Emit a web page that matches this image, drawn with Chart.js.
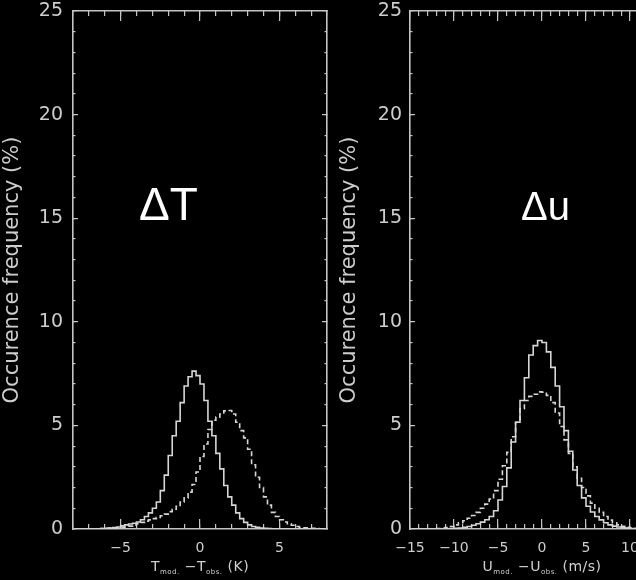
<!DOCTYPE html>
<html><head><meta charset="utf-8">
<script src="https://cdn.jsdelivr.net/npm/chart.js@4/dist/chart.umd.min.js"></script>
<style>
html,body{margin:0;padding:0;background:#000;width:636px;height:580px;overflow:hidden;}
#wrap{position:relative;width:636px;height:580px;overflow:hidden;background:#000;}
canvas{position:absolute;top:0;}
#c1{left:0;}
#c2{left:335px;}
.big{position:absolute;color:#fff;font-family:"Liberation Sans",Arial,sans-serif;line-height:1;white-space:nowrap;}
.xt{position:absolute;color:#cfcfcf;font-family:"DejaVu Sans",sans-serif;font-size:14px;line-height:1;white-space:nowrap;transform:translateX(-50%);letter-spacing:0.5px;}
.xt sub{font-size:7px;vertical-align:-3px;line-height:0;}
</style></head>
<body><div id="wrap">
<canvas id="c1" width="340" height="580"></canvas>
<canvas id="c2" width="365" height="580"></canvas>
<div class="big" style="left:139px;top:181px;font-size:46px;">ΔT</div>
<div class="big" style="left:521px;top:186px;font-size:40px;">Δu</div>
<div class="xt" style="left:200px;top:559px;">T<sub>mod.</sub> −T<sub>obs.</sub> (K)</div>
<div class="xt" style="left:542px;top:559px;">U<sub>mod.</sub> −U<sub>obs.</sub> (m/s)</div>
</div>
<script>
// ---------- data ----------
const yAxisTitle = "Occurence frequency (%)";
const yRange = [0, 25];
const yMajorStep = 5;

// temperature difference histogram (bins of 0.25 K from -8 to 8)
const tempRange = [-8, 8];
const tempBinWidth = 0.25;
const tempSolid = [0,0,0,0,0,0,0.01,0.02,
  0.03,0.05,0.07,0.1,0.15,0.2,0.24,0.28,0.34,0.45,0.6,0.78,1.0,1.3,1.85,2.6,3.55,4.5,5.2,6.1,6.9,7.35,7.62,7.4,
  7.0,6.2,5.2,4.5,3.65,2.9,2.1,1.55,1.15,0.78,0.5,0.32,0.2,0.12,0.08,0.05,0.03,0.02,
  0.01,0,0,0,0,0,0,0,0,0,0,0,0,0];
const tempDashed = [0,0,0,0,0,0,0.01,
  0.02,0.03,0.04,0.05,0.06,0.08,0.1,0.14,0.19,0.26,0.32,0.38,0.44,0.5,0.56,0.64,0.72,0.84,0.95,1.1,1.3,1.5,1.78,2.15,2.75,
  3.5,4.1,4.8,5.25,5.4,5.55,5.7,5.72,5.55,5.15,4.75,4.4,3.85,3.1,2.5,2.0,1.55,1.15,0.8,0.6,0.45,0.34,0.25,0.18,0.12,0.08,0.06,0.04,0.03,0.02,0.01,0.01];

// wind difference histogram (bins of 0.5 m/s from -15 to 15)
const windRange = [-15, 15];
const windBinWidth = 0.5;
const windSolid = [0,0,0,0,0,0,0,0,0.01,0.02,
  0.03,0.05,0.08,0.12,0.18,0.25,0.33,0.45,0.6,0.88,1.4,2.05,2.95,4.2,5.15,6.2,7.3,8.4,8.85,9.1,
  9.0,8.55,7.8,6.9,5.9,4.75,3.75,2.85,2.1,1.5,1.1,0.82,0.6,0.44,0.3,0.2,0.14,0.1,0.06,0.04,0.02,
  0.01,0,0,0,0,0,0,0,0];
const windDashed = [0,0,0,0,0,0.01,
  0.02,0.04,0.07,0.12,0.2,0.3,0.4,0.52,0.65,0.8,1.0,1.2,1.45,1.85,2.4,3.05,3.7,4.45,5.15,5.8,6.2,6.4,6.5,6.62,
  6.6,6.45,6.1,5.6,4.95,4.3,3.65,3.0,2.45,2.0,1.6,1.25,1.0,0.8,0.6,0.43,0.3,0.2,0.13,0.08,0.05,0.03,0.02,
  0.01,0.01,0,0,0,0,0];

// ---------- styling ----------
const LINE = '#d6d6d6';
const AXIS = '#c4c4c4';
const TEXT = '#cdcdcd';
Chart.defaults.font.family = '"DejaVu Sans", sans-serif';

function toPoints(range, width, values) {
  return values.map((v, i) => ({x: range[0] + (i + 0.5) * width, y: v}));
}
const minusFmt = v => String(v).replace('-', '\u2212');

function zeroPad(s) { s.paddingLeft = 0; s.paddingRight = 0; s.paddingTop = 0; s.paddingBottom = 0; }

function tickAxis(pos, range, step, len, withBorder) {
  return {
    type: 'linear', position: pos, min: range[0], max: range[1], display: true, weight: 0,
    ticks: {display: false, stepSize: step, autoSkip: false, maxTicksLimit: 1000, includeBounds: false},
    grid: {display: true, drawOnChartArea: false, drawTicks: true, tickLength: -len, color: AXIS, lineWidth: 1.2},
    border: {display: withBorder, color: AXIS, width: 1.6},
    afterFit: s => { if (s.isHorizontal()) s.height = 0; else s.width = 0; zeroPad(s); }
  };
}

function makeChart(id, xRange, solid, dashed, binW, canvasW, yLabelW, plotRightMargin, titlePad, tickPadY) {
  const scales = {
    x: {
      type: 'linear', position: 'bottom', min: xRange[0], max: xRange[1], weight: 1,
      ticks: {stepSize: 5, autoSkip: false, includeBounds: false, maxRotation: 0, padding: 11,
        color: TEXT, font: {size: 14}, callback: minusFmt},
      grid: {display: false, drawTicks: false},
      border: {display: true, color: AXIS, width: 1.6},
      afterFit: s => { s.height = 51; zeroPad(s); }
    },
    y: {
      type: 'linear', position: 'left', min: yRange[0], max: yRange[1], weight: 1,
      ticks: {stepSize: yMajorStep, padding: tickPadY, color: TEXT, font: {size: 19, lineHeight: 1}, callback: minusFmt},
      grid: {display: false, drawTicks: false},
      border: {display: true, color: AXIS, width: 1.6},
      title: {display: true, text: yAxisTitle, color: TEXT, font: {size: 21}, padding: {top: titlePad, bottom: 0}},
      afterFit: s => { s.width = yLabelW; zeroPad(s); }
    },
    xMajB: tickAxis('bottom', xRange, 5, 10, false),
    xMinB: tickAxis('bottom', xRange, 1, 5, false),
    xMajT: tickAxis('top', xRange, 5, 10, true),
    xMinT: tickAxis('top', xRange, 1, 5, false),
    yMajL: tickAxis('left', yRange, 5, 5, false),
    yMinL: tickAxis('left', yRange, 1, 2.5, false),
    yMajR: tickAxis('right', yRange, 5, 5, true),
    yMinR: tickAxis('right', yRange, 1, 2.5, false)
  };
  return new Chart(document.getElementById(id), {
    type: 'line',
    data: {
      datasets: [
        {data: toPoints(xRange, binW, solid), stepped: 'middle', borderColor: LINE, borderWidth: 1.6,
         pointRadius: 0, fill: false, xAxisID: 'x', yAxisID: 'y'},
        {data: toPoints(xRange, binW, dashed), stepped: 'middle', borderColor: LINE, borderWidth: 1.6,
         borderDash: [5, 3], pointRadius: 0, fill: false, xAxisID: 'x', yAxisID: 'y'}
      ]
    },
    options: {
      responsive: false, devicePixelRatio: 1, animation: false, events: [],
      layout: {padding: {top: 11, right: plotRightMargin, bottom: 0, left: 0}},
      plugins: {legend: {display: false}, tooltip: {enabled: false}},
      scales: scales
    }
  });
}

makeChart('c1', tempRange, tempSolid, tempDashed, tempBinWidth, 340, 73, 13, 0, 10);
makeChart('c2', windRange, windSolid, windDashed, windBinWidth, 365, 75, 26, 1.5, 8);
</script>
</body></html>
